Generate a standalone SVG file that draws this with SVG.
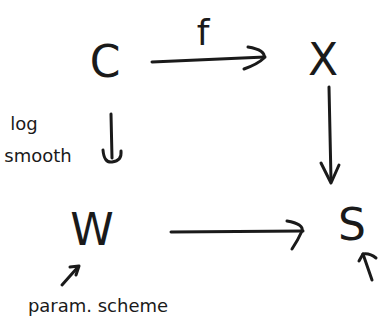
<svg xmlns="http://www.w3.org/2000/svg" width="380" height="324" viewBox="0 0 380 324">
<style>
.n{font-family:"DejaVu Sans","Liberation Sans",sans-serif;fill:#1a1a1a;text-anchor:middle}
.big{font-size:44px;font-weight:normal}
.lbl{font-size:18px}
.c{fill:none;stroke:#1a1a1a;stroke-width:3;stroke-linecap:round;stroke-linejoin:round}
</style>
<rect width="380" height="324" fill="#fff"/>
<g id="C"><text class="n big" x="105" y="77">C</text></g>
<g id="X"><text class="n big" x="323" y="75">X</text></g>
<g id="W"><text class="n big" x="92" y="245">W</text></g>
<g id="S"><text class="n big" x="352" y="240">S</text></g>
<g id="labels">
<text class="n" x="203" y="45" style="font-size:36px">f</text>
<text class="n lbl" x="24" y="130">log</text>
<text class="n lbl" x="38" y="162">smooth</text>
<text class="n lbl" x="98" y="312">param. scheme</text>
</g>
<g id="connectors">
<path class="c" d="M152 62 L265 57"/>
<path class="c" d="M248 47 Q266 50 264 58 Q258 64 244 69"/>
<path class="c" d="M111 114 L112 158"/>
<path class="c" d="M103 150 Q104 163 112 162 Q122 161 121 151"/>
<path class="c" d="M329 87 L331 180"/>
<path class="c" d="M321 163 L331 183 L339 165"/>
<path class="c" d="M171 232 L303 231"/>
<path class="c" d="M287 221 Q304 224 302 231 Q298 240 292 249"/>
<path class="c" d="M372 280 L363 254"/>
<path class="c" d="M359 261 L363 254 Q370 253 376 258"/>
<path class="c" d="M62 285 L78 267"/>
<path class="c" d="M70 267 L79 266 L76 275"/>
</g>
</svg>
